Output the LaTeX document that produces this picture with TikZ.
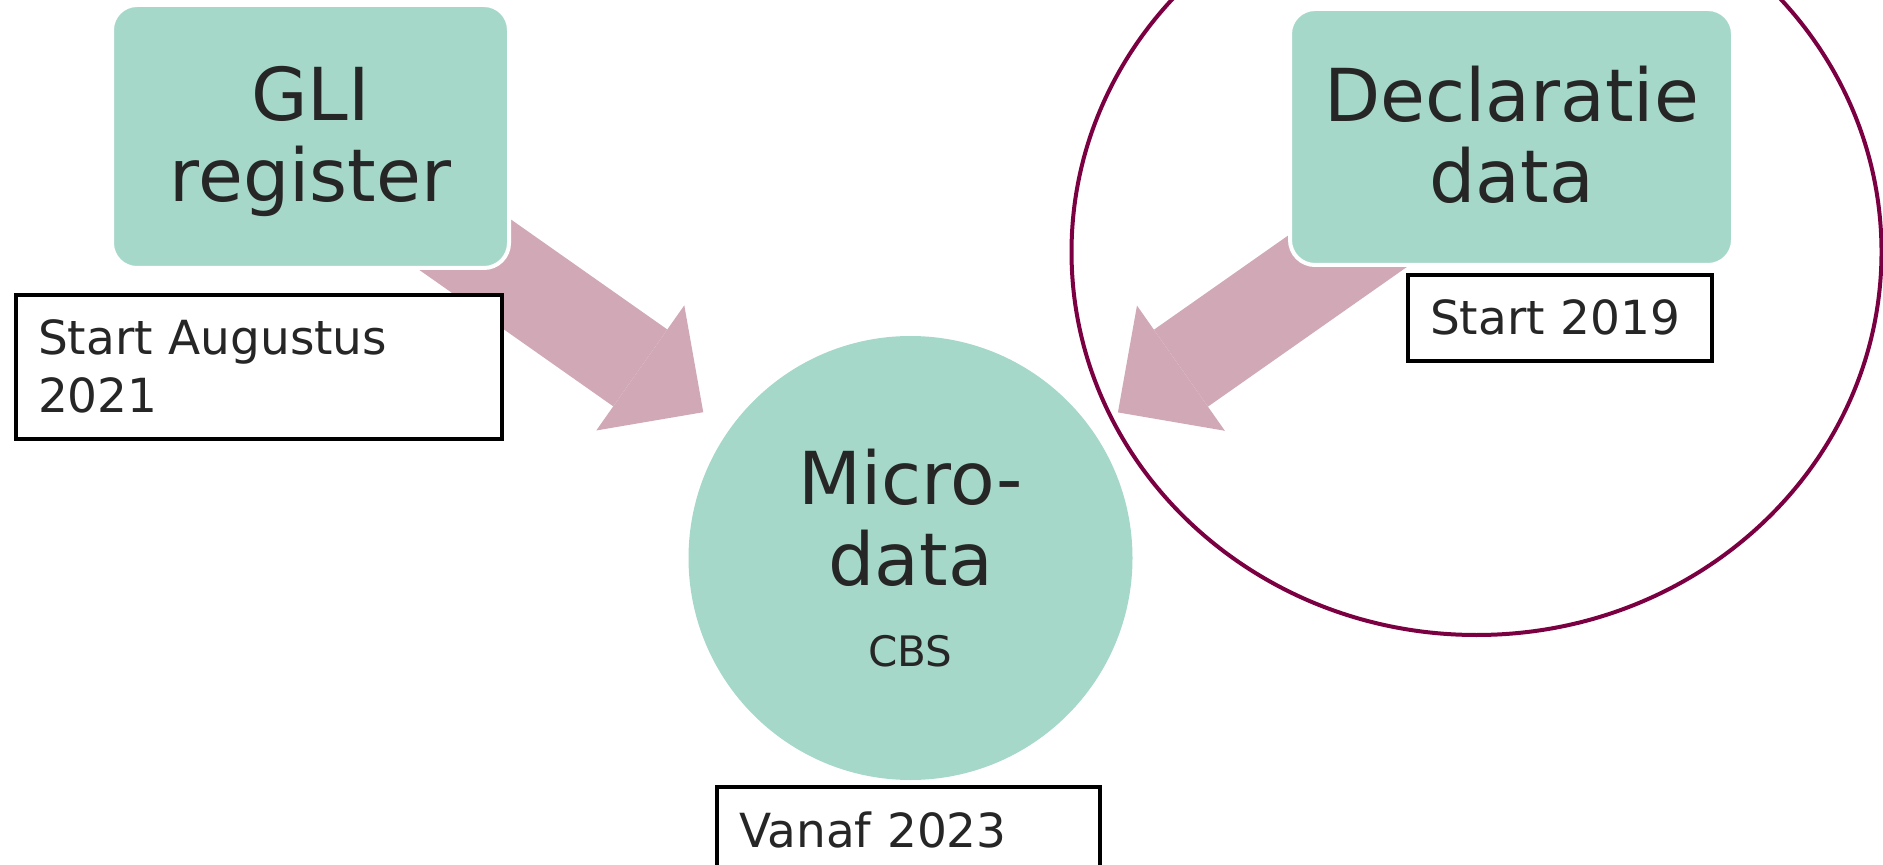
\documentclass[tikz,border=0pt]{standalone}
\usepackage{fontspec}
\setmainfont{DejaVu Sans}
\usetikzlibrary{arrows.meta,backgrounds}
\definecolor{tealfill}{RGB}{166,216,201}
\definecolor{pinkarrow}{RGB}{209,169,182}
\definecolor{wine}{RGB}{123,0,66}
\definecolor{inktext}{RGB}{38,38,38}
\tikzset{
  srcbox/.style={rectangle, rounded corners=12.5pt, fill=tealfill, draw=white, line width=2pt,
    text=inktext, align=center, font=\fontsize{36.5}{40.5}\selectfont,
    text height=67pt, text depth=1.5pt, inner sep=0pt},
  micro/.style={circle, fill=tealfill, minimum size=222pt, inner sep=0pt,
    text=inktext, align=center, font=\fontsize{36.5}{40.5}\selectfont},
  datebox/.style={rectangle, draw=black, line width=2pt, fill=white, anchor=north west,
    align=left, inner xsep=11pt, inner ysep=12.5pt, text=inktext,
    font=\fontsize{23.5}{29}\selectfont},
  fatarrow/.style={draw=pinkarrow, line width=47pt,
    -{Triangle[length=38.5pt, width=76.5pt, line width=0pt]}, shorten >=15.5pt},
}
\begin{document}
\begin{tikzpicture}[x=0.5pt, y=-0.5pt]
    \useasboundingbox (0,0) rectangle (1883,865);
    \clip (0,0) rectangle (1883,865);
    % ring round the declaratie side
    \draw[wine, line width=2pt] (1476.5,252) ellipse [x radius=202.5pt, y radius=191.5pt];
    \node[micro] (micro) at (910.5,558) {Micro-\\data\\{\fontsize{21}{40.5}\selectfont CBS}};
    \node[srcbox, minimum width=198.5pt, minimum height=131.5pt] (gli) at (310.5,136.5) {GLI\\register};
    \node[srcbox, minimum width=221.5pt, minimum height=128pt] (dec) at (1511.5,137) {Declaratie\\data};
    \begin{scope}[on background layer]
        \draw[fatarrow] ([shift={(-81,-50)}]gli.south east) -- (micro);
        \draw[fatarrow] ([shift={(104,-47)}]dec.south west) -- (micro);
    \end{scope}
    \node[datebox, text width=221pt] (gliStart) at (14,293) {Start Augustus\\2021};
    \node[datebox, text width=130pt] (decStart) at (1406,273) {Start 2019};
    \node[datebox, text width=169.5pt] (microStart) at (715,785) {Vanaf 2023};
\end{tikzpicture}
\end{document}
